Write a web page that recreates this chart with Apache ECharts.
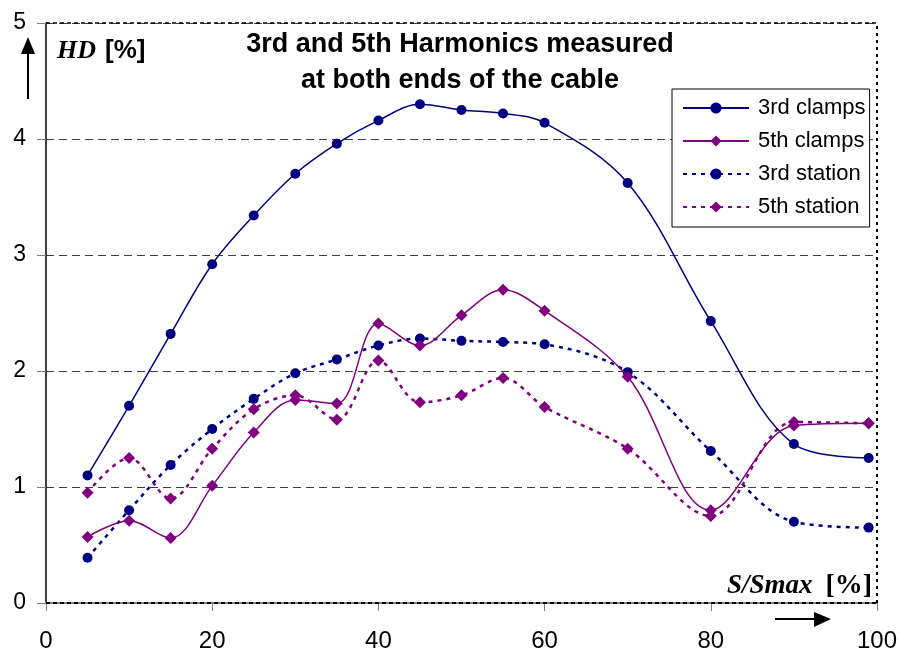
<!DOCTYPE html>
<html>
<head>
<meta charset="utf-8">
<script src="https://cdn.jsdelivr.net/npm/echarts@6/dist/echarts.min.js"></script>
<style>
  html, body { margin: 0; padding: 0; background: #fff; }
  #chart { width: 900px; height: 653px; }
</style>
</head>
<body>
<div id="chart"></div>
<script>
// Load level S/Smax [%]
const loadLevels = [5, 10, 15, 20, 25, 30, 35, 40, 45, 50, 55, 60, 70, 80, 90, 99];

// Harmonic distortion HD [%]
const thirdClamps  = [1.10, 1.70, 2.32, 2.92, 3.34, 3.70, 3.96, 4.16, 4.30, 4.25, 4.22, 4.14, 3.62, 2.43, 1.37, 1.25];
const fifthClamps  = [0.57, 0.71, 0.56, 1.01, 1.47, 1.75, 1.72, 2.41, 2.22, 2.48, 2.70, 2.52, 1.95, 0.80, 1.53, 1.55];
const thirdStation = [0.39, 0.80, 1.19, 1.50, 1.76, 1.98, 2.10, 2.22, 2.28, 2.26, 2.25, 2.23, 1.99, 1.31, 0.70, 0.65];
const fifthStation = [0.95, 1.25, 0.90, 1.33, 1.67, 1.79, 1.58, 2.09, 1.73, 1.79, 1.94, 1.69, 1.33, 0.75, 1.56, 1.55];

const xTicks = [0, 20, 40, 60, 80, 100];
const yTicks = [0, 1, 2, 3, 4, 5];

const NAVY = '#000080';
const PURPLE = '#800080';
const FONT = '"Liberation Sans", Arial, sans-serif';
const SERIF = '"Liberation Serif", "Times New Roman", serif';

const pairs = (ys) => loadLevels.map((x, i) => [x, ys[i]]);

function lineSeries(name, values, color, symbol, dotted, size) {
  return {
    name: name,
    type: 'line',
    data: pairs(values),
    smooth: 0.35,
    symbol: symbol,
    symbolSize: size,
    showSymbol: true,
    itemStyle: { color: color },
    lineStyle: dotted
      ? { color: color, width: 2.5, type: [4, 5] }
      : { color: color, width: 1.5, type: 'solid' },
    z: dotted ? 3 : 4
  };
}

const series = [
  lineSeries('3rd clamps', thirdClamps, NAVY, 'circle', false, 10),
  lineSeries('5th clamps', fifthClamps, PURPLE, 'diamond', false, 12),
  lineSeries('3rd station', thirdStation, NAVY, 'circle', true, 10),
  lineSeries('5th station', fifthStation, PURPLE, 'diamond', true, 12)
];

// plot frame: dotted right edge, dashed top edge, dotted overlay on the zero line
series[0].markLine = {
  silent: true,
  symbol: 'none',
  label: { show: false },
  data: [
    { xAxis: xTicks[xTicks.length - 1], lineStyle: { color: '#000', width: 2, type: [3, 4] } },
    { yAxis: yTicks[yTicks.length - 1], lineStyle: { color: '#000', width: 1.5, type: [4, 3] } },
    { yAxis: yTicks[0], lineStyle: { color: '#000', width: 2, type: [4, 3] } }
  ]
};

const chart = echarts.init(document.getElementById('chart'), null, { renderer: 'canvas' });

chart.setOption({
  animation: false,
  backgroundColor: '#fff',
  grid: { left: 46, right: 23, top: 23, bottom: 50, containLabel: false },
  title: {
    text: '3rd and 5th Harmonics measured\nat both ends of the cable',
    left: 455,
    top: 22,
    textAlign: 'center',
    textStyle: {
      fontFamily: FONT,
      fontWeight: 'bold',
      fontSize: 27,
      lineHeight: 36,
      color: '#000'
    }
  },
  legend: {
    orient: 'vertical',
    left: 672,
    top: 89,
    padding: [8, 4, 9, 10],
    borderColor: '#000',
    borderWidth: 1,
    backgroundColor: '#fff',
    itemWidth: 66,
    itemHeight: 14,
    itemGap: 11,
    textStyle: { fontFamily: FONT, fontSize: 22, lineHeight: 22, color: '#000', padding: [0, 0, 0, 4] },
    data: series.map(s => s.name)
  },
  xAxis: {
    type: 'value',
    min: xTicks[0],
    max: xTicks[xTicks.length - 1],
    interval: 20,
    axisLine: { show: true, onZero: false, lineStyle: { color: '#808080', width: 2 } },
    axisTick: { show: true, length: 8, inside: false, lineStyle: { color: '#808080', width: 1 } },
    axisLabel: { fontFamily: FONT, fontSize: 24, color: '#000', margin: 26 },
    splitLine: { show: false }
  },
  yAxis: {
    type: 'value',
    min: yTicks[0],
    max: yTicks[yTicks.length - 1],
    interval: 1,
    axisLine: { show: true, lineStyle: { color: '#000', width: 1.5 } },
    axisTick: { show: true, length: 9, lineStyle: { color: '#808080', width: 1 } },
    axisLabel: { fontFamily: FONT, fontSize: 23, color: '#000', margin: 20 },
    splitLine: { show: true, lineStyle: { color: '#404040', width: 1, type: [8, 5] } }
  },
  graphic: [
    // vertical-axis name with upward arrow
    {
      type: 'text', left: 57, top: 38, z: 10,
      style: {
        text: '{i|HD}{b|[%]}',
        rich: {
          i: { fontFamily: SERIF, fontStyle: 'italic', fontWeight: 'bold', fontSize: 26, fill: '#000' },
          b: { fontFamily: FONT, fontWeight: 'bold', fontSize: 26, fill: '#000', padding: [0, 0, 0, 9] }
        }
      }
    },
    { type: 'line', z: 10, shape: { x1: 28, y1: 99, x2: 28, y2: 50 }, style: { stroke: '#000', lineWidth: 2 } },
    { type: 'polygon', z: 10, shape: { points: [[21, 54], [35, 54], [28, 37]] }, style: { fill: '#000' } },
    // horizontal-axis name with right arrow
    {
      type: 'text', left: 727, top: 572, z: 10,
      style: {
        text: '{i|S/Smax}{b|[%]}',
        rich: {
          i: { fontFamily: SERIF, fontStyle: 'italic', fontWeight: 'bold', fontSize: 27, fill: '#000' },
          b: { fontFamily: SERIF, fontWeight: 'bold', fontSize: 28, fill: '#000', padding: [0, 0, 0, 13] }
        }
      }
    },
    { type: 'line', z: 10, shape: { x1: 775, y1: 619, x2: 816, y2: 619 }, style: { stroke: '#000', lineWidth: 2 } },
    { type: 'polygon', z: 10, shape: { points: [[814, 612], [814, 627], [831, 619]] }, style: { fill: '#000' } }
  ],
  series: series
});
</script>
</body>
</html>
